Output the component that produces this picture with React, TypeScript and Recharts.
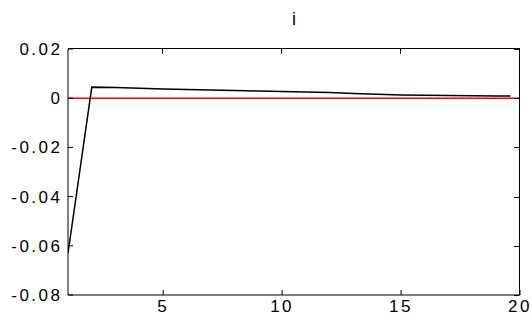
import { Line, LineChart, ReferenceLine, XAxis, YAxis } from "recharts";

const xs = [1, 2, 3, 4, 5, 6, 7, 8, 9, 10, 11, 12, 13, 14, 15, 16, 17, 18, 19, 19.6];
const ys = [
    -0.063, 0.0045, 0.0043, 0.004, 0.0037, 0.0035, 0.0033, 0.0031, 0.0029, 0.0027,
    0.0025, 0.0023, 0.0019, 0.0016, 0.0013, 0.0012, 0.0011, 0.001, 0.0009, 0.0009,
];
const xTicks = [5, 10, 15, 20];
const yTicks = [-0.08, -0.06, -0.04, -0.02, 0, 0.02];
const X_DOMAIN: [number, number] = [1, 20];
const Y_DOMAIN: [number, number] = [-0.08, 0.02];
const title = "i";

const W = 531;
const H = 323;
// plot box
const PLOT = { left: 68, top: 49, right: 520, bottom: 295 };

const FONT = "'Liberation Sans', Arial, Helvetica, sans-serif";
const tickStyle = { fill: "#000", fontSize: 17, fontFamily: FONT, letterSpacing: 2.5 };

const data = xs.map((x, i) => ({ x, y: ys[i] }));

function fmtY(v: number) {
    if (v === 0) return "0";
    return v.toFixed(2);
}

// top and right sides of the box (plain css borders), with small inward ticks
function Frame() {
    const pw = PLOT.right - PLOT.left;
    const ph = PLOT.bottom - PLOT.top;
    const sx = (v: number) => ((v - X_DOMAIN[0]) / (X_DOMAIN[1] - X_DOMAIN[0])) * pw;
    const sy = (v: number) => ph - ((v - Y_DOMAIN[0]) / (Y_DOMAIN[1] - Y_DOMAIN[0])) * ph;
    return (
        <div
            style={{
                position: "absolute",
                left: PLOT.left,
                top: PLOT.top - 1,
                width: pw,
                height: ph + 1,
                borderTop: "1px solid #000",
                borderRight: "1px solid #000",
                boxSizing: "border-box",
                pointerEvents: "none",
                zIndex: 2,
            }}
        >
            {xTicks.map((t) => (
                <div
                    key={"x" + t}
                    style={{ position: "absolute", left: sx(t) - 1, top: 0, width: 1, height: 5, background: "#000" }}
                />
            ))}
            {yTicks.map((t) => (
                <div
                    key={"y" + t}
                    style={{ position: "absolute", right: 0, top: sy(t), width: 5, height: 1, background: "#000" }}
                />
            ))}
        </div>
    );
}

export default function App() {
    return (
        <div style={{ position: "absolute", left: 0, top: 0, width: W, height: H, background: "#fff" }}>
            <div
                style={{
                    position: "absolute",
                    left: 244,
                    width: 100,
                    top: 9,
                    textAlign: "center",
                    fontFamily: FONT,
                    fontSize: 18,
                    lineHeight: "20px",
                }}
            >
                {title}
            </div>
            <LineChart
                width={W}
                height={H}
                data={data}
                margin={{ top: PLOT.top, right: W - PLOT.right, bottom: 0, left: 0 }}
            >
                <XAxis
                    dataKey="x"
                    type="number"
                    domain={X_DOMAIN}
                    ticks={xTicks}
                    height={H - PLOT.bottom}
                    tickSize={-5}
                    tickMargin={10}
                    stroke="#000"
                    tick={tickStyle}
                    allowDataOverflow
                />
                <YAxis
                    type="number"
                    domain={Y_DOMAIN}
                    ticks={yTicks}
                    width={PLOT.left}
                    tickSize={-5}
                    tickMargin={10.5}
                    tickFormatter={fmtY}
                    stroke="#000"
                    tick={tickStyle}
                    allowDataOverflow
                />
                <ReferenceLine y={0} stroke="#ff0000" strokeWidth={1.5} />
                <Line
                    dataKey="y"
                    type="linear"
                    stroke="#000"
                    strokeWidth={1.5}
                    dot={false}
                    isAnimationActive={false}
                />
            </LineChart>
            <Frame />
        </div>
    );
}
